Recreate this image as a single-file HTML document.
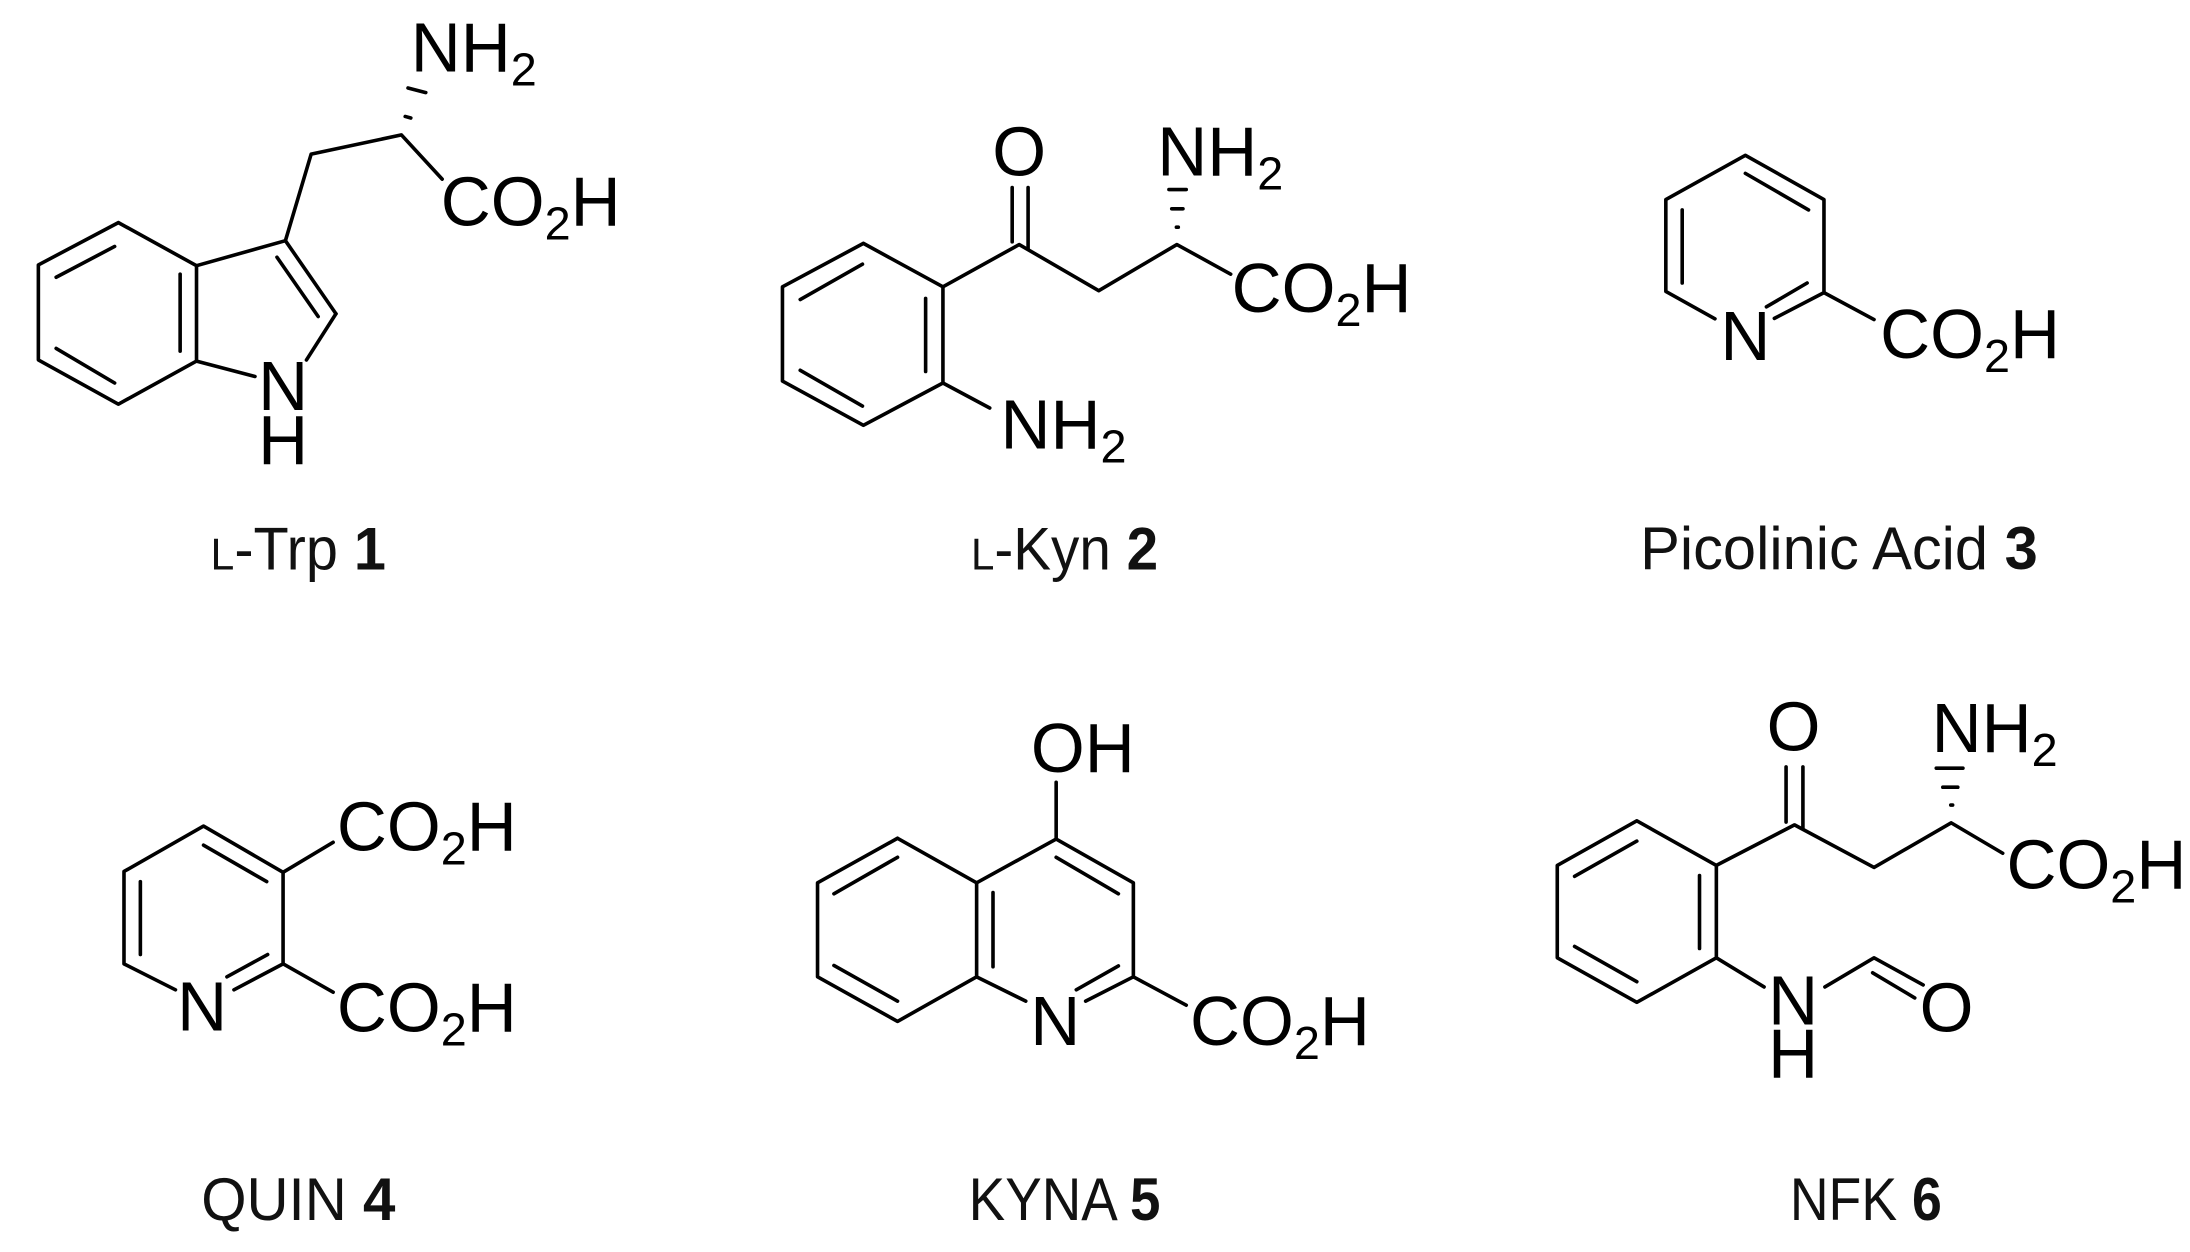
<!DOCTYPE html>
<html><head><meta charset="utf-8"><style>html,body{margin:0;padding:0;background:#fff;overflow:hidden}svg{display:block}</style></head><body>
<svg width="2190" height="1252" viewBox="0 0 1568 896" xmlns="http://www.w3.org/2000/svg">
<rect width="1568" height="896" fill="#fff"/>
<defs><style>
line,polyline{stroke:#000;stroke-width:3.6;fill:none;stroke-linecap:round;stroke-linejoin:round;vector-effect:non-scaling-stroke}
.a{font-family:"Liberation Sans",Arial,sans-serif;font-size:148px;fill:#000}
.s{font-size:100px}
.l{font-family:"Liberation Sans",Arial,sans-serif;font-size:128px;fill:#111}
</style></defs>

<!-- 1 Trp -->
<g transform="translate(0,0) scale(0.335,0.2754)">
<polyline points="253,578 82,688 82,935 253,1050 420,938 420,690 253,578"/>
<line x1="120" y1="720" x2="245" y2="640"/><line x1="120" y1="905" x2="245" y2="995"/><line x1="385" y1="712" x2="385" y2="912"/>
<line x1="420" y1="690" x2="610" y2="625"/><line x1="610" y1="625" x2="718" y2="815"/><line x1="592" y1="668" x2="680" y2="822"/>
<line x1="718" y1="815" x2="655" y2="935"/><line x1="545" y1="978" x2="420" y2="938"/>
<polyline points="610,625 665,400 858,350 945,465"/>
<line x1="872" y1="228" x2="910" y2="240"/><line x1="866" y1="302" x2="878" y2="306"/>
<g transform="translate(605,1065) scale(1,1.2164)"><text class="a" text-anchor="middle">N</text></g>
<g transform="translate(605,1205) scale(1,1.2164)"><text class="a" text-anchor="middle">H</text></g>
<g transform="translate(878,185) scale(1,1.2164)"><text class="a">NH<tspan class="s" dy="30">2</tspan></text></g>
<g transform="translate(942,585) scale(1,1.2164)"><text class="a">CO<tspan class="s" dy="30">2</tspan><tspan dy="-30">H</tspan></text></g>
<g transform="translate(450,1480) scale(1,1.2164)"><text class="l" textLength="375" lengthAdjust="spacingAndGlyphs"><tspan font-size="95">L</tspan>-Trp <tspan font-weight="bold">1</tspan></text></g>
</g>

<!-- 2 Kyn -->
<g transform="translate(522.7,0) scale(0.335,0.2754)">
<polyline points="285,632 112,745 112,990 285,1105 455,995 455,745 285,632"/>
<line x1="150" y1="778" x2="283" y2="686"/><line x1="150" y1="962" x2="283" y2="1055"/><line x1="418" y1="775" x2="418" y2="965"/>
<polyline points="455,745 618,635 788,755 955,635 1070,712"/>
<line x1="603" y1="487" x2="603" y2="628"/><line x1="637" y1="487" x2="637" y2="645"/>
<line x1="938" y1="492" x2="975" y2="492"/><line x1="944" y1="542" x2="968" y2="542"/><line x1="954" y1="590" x2="958" y2="590"/>
<line x1="455" y1="995" x2="555" y2="1060"/>
<g transform="translate(618,455) scale(1,1.2164)"><text class="a" text-anchor="middle">O</text></g>
<g transform="translate(913,455) scale(1,1.2164)"><text class="a">NH<tspan class="s" dy="30">2</tspan></text></g>
<g transform="translate(1072,810) scale(1,1.2164)"><text class="a">CO<tspan class="s" dy="30">2</tspan><tspan dy="-30">H</tspan></text></g>
<g transform="translate(578,1165) scale(1,1.2164)"><text class="a">NH<tspan class="s" dy="30">2</tspan></text></g>
<g transform="translate(515,1480) scale(1,1.2164)"><text class="l" textLength="400" lengthAdjust="spacingAndGlyphs"><tspan font-size="95">L</tspan>-Kyn <tspan font-weight="bold">2</tspan></text></g>
</g>

<!-- 3 Picolinic -->
<g transform="translate(1045.3,0) scale(0.335,0.2754)">
<polyline points="545,828 440,757 440,518 610,403 778,518 778,760 672,827"/>
<line x1="610" y1="450" x2="745" y2="545"/><line x1="475" y1="545" x2="475" y2="735"/><line x1="655" y1="797" x2="742" y2="735"/>
<line x1="778" y1="760" x2="885" y2="830"/>
<g transform="translate(610,935) scale(1,1.2164)"><text class="a" text-anchor="middle">N</text></g>
<g transform="translate(898,930) scale(1,1.2164)"><text class="a">CO<tspan class="s" dy="30">2</tspan><tspan dy="-30">H</tspan></text></g>
<g transform="translate(385,1478) scale(1,1.2164)"><text class="l" textLength="850" lengthAdjust="spacingAndGlyphs">Picolinic Acid <tspan font-weight="bold">3</tspan></text></g>
</g>

<!-- 4 QUIN -->
<g transform="translate(0,443.9) scale(0.335,0.2901)">
<polyline points="375,912 265,848 265,620 435,508 605,622 605,848 500,912"/>
<line x1="435" y1="555" x2="570" y2="645"/><line x1="300" y1="645" x2="300" y2="825"/><line x1="485" y1="880" x2="572" y2="825"/>
<line x1="605" y1="622" x2="712" y2="548"/><line x1="605" y1="848" x2="712" y2="918"/>
<g transform="translate(432,1012) scale(1,1.1548)"><text class="a" text-anchor="middle">N</text></g>
<g transform="translate(720,568) scale(1,1.1548)"><text class="a">CO<tspan class="s" dy="30">2</tspan><tspan dy="-30">H</tspan></text></g>
<g transform="translate(720,1015) scale(1,1.1548)"><text class="a">CO<tspan class="s" dy="30">2</tspan><tspan dy="-30">H</tspan></text></g>
<g transform="translate(430,1480) scale(1,1.1548)"><text class="l" textLength="415" lengthAdjust="spacingAndGlyphs">QUIN <tspan font-weight="bold">4</tspan></text></g>
</g>

<!-- 5 KYNA -->
<g transform="translate(522.7,443.9) scale(0.335,0.2901)">
<polyline points="358,538 187,648 187,880 358,990 527,880 527,648 358,538"/>
<line x1="222" y1="675" x2="358" y2="585"/><line x1="222" y1="852" x2="358" y2="940"/><line x1="562" y1="672" x2="562" y2="855"/>
<polyline points="527,648 697,540 862,648 862,880 760,940"/><line x1="632" y1="940" x2="527" y2="880"/>
<line x1="697" y1="585" x2="830" y2="675"/><line x1="740" y1="912" x2="830" y2="853"/>
<line x1="697" y1="540" x2="697" y2="400"/><line x1="862" y1="880" x2="975" y2="950"/>
<g transform="translate(643,375) scale(1,1.1548)"><text class="a">OH</text></g>
<g transform="translate(695,1048) scale(1,1.1548)"><text class="a" text-anchor="middle">N</text></g>
<g transform="translate(983,1048) scale(1,1.1548)"><text class="a">CO<tspan class="s" dy="30">2</tspan><tspan dy="-30">H</tspan></text></g>
<g transform="translate(510,1480) scale(1,1.1548)"><text class="l" textLength="410" lengthAdjust="spacingAndGlyphs">KYNA <tspan font-weight="bold">5</tspan></text></g>
</g>

<!-- 6 NFK -->
<g transform="translate(1045.3,443.9) scale(0.335,0.2901)">
<polyline points="378,495 208,605 208,833 378,943 548,833 548,605 378,495"/>
<line x1="245" y1="632" x2="378" y2="545"/><line x1="245" y1="805" x2="378" y2="892"/><line x1="512" y1="630" x2="512" y2="810"/>
<polyline points="548,605 715,505 885,610 1050,500 1160,575"/>
<line x1="697" y1="362" x2="697" y2="498"/><line x1="733" y1="362" x2="733" y2="515"/>
<line x1="1018" y1="365" x2="1075" y2="365"/><line x1="1032" y1="412" x2="1064" y2="412"/><line x1="1049" y1="456" x2="1053" y2="456"/>
<line x1="548" y1="833" x2="650" y2="905"/><polyline points="780,905 885,833 990,900"/><line x1="882" y1="870" x2="972" y2="932"/>
<g transform="translate(713,322) scale(1,1.1548)"><text class="a" text-anchor="middle">O</text></g>
<g transform="translate(1008,325) scale(1,1.1548)"><text class="a">NH<tspan class="s" dy="30">2</tspan></text></g>
<g transform="translate(1168,662) scale(1,1.1548)"><text class="a">CO<tspan class="s" dy="30">2</tspan><tspan dy="-30">H</tspan></text></g>
<g transform="translate(712,998) scale(1,1.1548)"><text class="a" text-anchor="middle">N</text></g>
<g transform="translate(712,1128) scale(1,1.1548)"><text class="a" text-anchor="middle">H</text></g>
<g transform="translate(1040,1015) scale(1,1.1548)"><text class="a" text-anchor="middle">O</text></g>
<g transform="translate(705,1480) scale(1,1.1548)"><text class="l" textLength="325" lengthAdjust="spacingAndGlyphs">NFK <tspan font-weight="bold">6</tspan></text></g>
</g>
</svg>
</body></html>
